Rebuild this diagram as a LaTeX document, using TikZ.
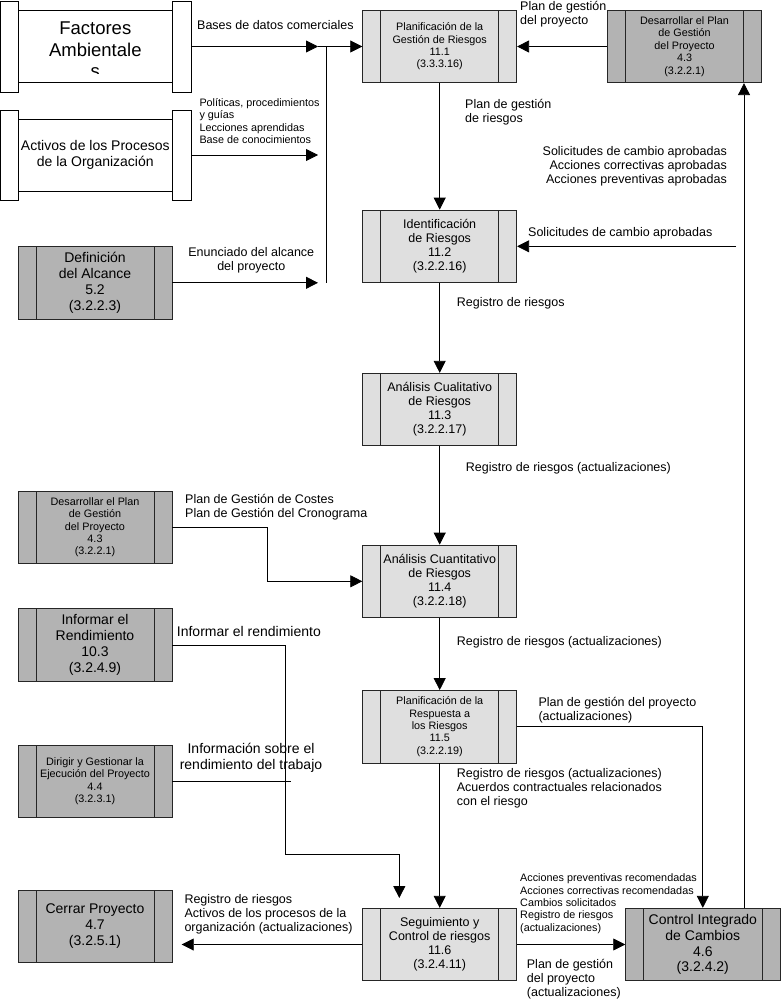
\documentclass[tikz,border=0pt]{standalone}
\usepackage{fontspec}
\setmainfont{Liberation Sans}
\usetikzlibrary{arrows.meta}
\definecolor{riskfill}{RGB}{223,223,223}
\definecolor{extfill}{RGB}{179,179,179}
\newcommand\fsmall{\fontsize{10.8}{12.4}\selectfont}
\newcommand\fmed{\fontsize{12.5}{14}\selectfont}
\newcommand\fbig{\fontsize{14}{15.9}\selectfont}
\newcommand\fhuge{\fontsize{18.5}{21.5}\selectfont}
\tikzset{
  proc/.style={draw=black!85, line width=0.8pt, minimum width=154pt, minimum height=72.5pt,
    inner sep=0pt, align=center,
    path picture={\draw[line width=0.8pt]
      ([xshift=18pt]path picture bounding box.north west) -- ([xshift=18pt]path picture bounding box.south west)
      ([xshift=-18pt]path picture bounding box.north east) -- ([xshift=-18pt]path picture bounding box.south east);}},
  risk/.style={proc, fill=riskfill},
  ext/.style={proc, fill=extfill},
  scroll/.style={draw, line width=0.8pt, minimum width=154pt, inner sep=0pt, fill=white},
  lbl/.style={inner sep=0pt, anchor=north west, align=left, font=\fmed},
  ln/.style={line width=0.8pt},
  arr/.style={ln, -{Triangle[length=12pt,width=12pt]}}
}
\begin{document}
\begin{tikzpicture}[x=1pt,y=-1pt]
  \useasboundingbox (0,0) rectangle (781,1003);
  \fill[white] (0,0) rectangle (781,1003);
  % entradas externas
  \node[scroll, minimum height=71.4pt] (fa) at (95.3,46.5) {};
  \node[scroll, minimum height=72pt, font=\fbig, align=center] (ao) at (95.3,155) {Activos de los Procesos\\de la Organización};
  \foreach \n/\ta/\tb in {fa/9.3/10.3, ao/8/9} {
    \draw[ln, fill=white] ([shift={(-17.3,-\ta)}]\n.north west) rectangle ([shift={(0,\tb)}]\n.south west);
    \draw[ln, fill=white] ([shift={(0,-\ta)}]\n.north east) rectangle ([shift={(18.4,\tb)}]\n.south east);
  }
  \begin{scope}
    \clip (fa.north west) rectangle (172.3,73.5);
    \node[font=\fhuge, align=center, inner sep=0pt] (fat) at (95.3,50) {Factores\\Ambientale\\s};
  \end{scope}
  % procesos de riesgos
  \node[risk, font=\fsmall] (p1) at (439.7,46.5) {Planificación de la\\Gestión de Riesgos\\11.1\\(3.3.3.16)};
  \node[risk, font=\fmed] (p2) at (439.7,246.3) {Identificación\\de Riesgos\\11.2\\(3.2.2.16)};
  \node[risk, font=\fmed] (p3) at (439.7,409.5) {Análisis Cualitativo\\de Riesgos\\11.3\\(3.2.2.17)};
  \node[risk, font=\fmed] (p4) at (439.7,581.3) {Análisis Cuantitativo\\de Riesgos\\11.4\\(3.2.2.18)};
  \node[risk, font=\fsmall] (p5) at (439.7,726.7) {Planificación de la\\Respuesta a\\los Riesgos\\11.5\\(3.2.2.19)};
  \node[risk, font=\fmed] (p6) at (439.7,944.5) {Seguimiento y\\Control de riesgos\\11.6\\(3.2.4.11)};
  % otros procesos
  \node[ext, font=\fsmall] (d1) at (684.5,46.5) {Desarrollar el Plan\\de Gestión\\del Proyecto\\4.3\\(3.2.2.1)};
  \node[ext, font=\fbig] (al) at (95,282.8) {Definición\\del Alcance\\5.2\\(3.2.2.3)};
  \node[ext, font=\fsmall] (d2) at (95,527.3) {Desarrollar el Plan\\de Gestión\\del Proyecto\\4.3\\(3.2.2.1)};
  \node[ext, font=\fbig] (ir) at (95,645) {Informar el\\Rendimiento\\10.3\\(3.2.4.9)};
  \node[ext, font=\fsmall] (dg) at (95,781.3) {Dirigir y Gestionar la\\Ejecución del Proyecto\\4.4\\(3.2.3.1)};
  \node[ext, font=\fbig] (cp) at (95,926.3) {Cerrar Proyecto\\4.7\\(3.2.5.1)};
  \node[ext, font=\fbig, minimum width=154.3pt] (ci) at (702.8,944.5) {Control Integrado\\de Cambios\\4.6\\(3.2.4.2)};
  % puntos de paso
  \coordinate (j1) at (318,46.5);
  \coordinate (j2) at (326,46.5);
  \coordinate (s1) at (736,246.3);
  \coordinate (up) at (744,0);
  \coordinate (k1) at (267.7,550);
  \coordinate (k2) at (285.7,854.3);
  \coordinate (k3) at (399.3,898);
  \coordinate (k4) at (291,0);
  \coordinate (k5) at (181.7,0);
  \begin{scope}[arr]
    \draw ([xshift=18.4pt]fa.east) to (j1);
    \draw (j1) to (p1.west);
    \draw ([xshift=18.4pt]ao.east) to (ao.east -| j1);
    \draw (al.east) to (al.east -| j1);
    \draw (d1.west) to (p1.east);
    \draw (p1) to (p2);
    \draw (s1) to (p2.east);
    \draw (p2) to (p3);
    \draw (p3) to (p4);
    \draw (d2.east) -| (k1) |- (p4.west);
    \draw (p4) to (p5);
    \draw (p5) to (p6);
    \draw (p5.east) -| (ci.north);
    \draw (p6.east) to (ci.west);
    \draw (p6.west) to (p6.west -| k5);
    \draw (ci.north -| up) to (d1.south -| up);
    \draw (ir.east) -| (k2) -| (k3);
  \end{scope}
  \draw[ln] (j2) -- (al.east -| j2);
  \draw[ln] (dg.east) -- (dg.east -| k4);
  % etiquetas
  \node[lbl] (t1) at (197,20.4) {Bases de datos comerciales};
  \node[lbl, font=\fsmall] (t2) at (199.3,98.2) {Políticas, procedimientos\\y guías\\Lecciones aprendidas\\Base de conocimientos};
  \node[lbl, anchor=north, align=center] (t3) at (251.3,247.7) {Enunciado del alcance\\del proyecto};
  \node[lbl] (t4) at (520,0.6) {Plan de gestión\\del proyecto};
  \node[lbl] (t5) at (465,99.3) {Plan de gestión\\de riesgos};
  \node[lbl, anchor=north east, align=right] (t6) at (727,146.1) {Solicitudes de cambio aprobadas\\Acciones correctivas aprobadas\\Acciones preventivas aprobadas};
  \node[lbl] (t7) at (528,227.1) {Solicitudes de cambio aprobadas};
  \node[lbl] (t8) at (456.7,297.4) {Registro de riesgos};
  \node[lbl] (t9) at (465.7,462.7) {Registro de riesgos (actualizaciones)};
  \node[lbl] (t10) at (185,494.3) {Plan de Gestión de Costes\\Plan de Gestión del Cronograma};
  \node[lbl] (t11) at (456.7,636.1) {Registro de riesgos (actualizaciones)};
  \node[lbl, font=\fbig] (t12) at (176.7,625.7) {Informar el rendimiento};
  \node[lbl] (t13) at (538.3,697.3) {Plan de gestión del proyecto\\(actualizaciones)};
  \node[lbl, font=\fbig, anchor=north, align=center] (t14) at (251,743) {Información sobre el\\rendimiento del trabajo};
  \node[lbl] (t15) at (456.7,768.1) {Registro de riesgos (actualizaciones)\\Acuerdos contractuales relacionados\\con el riesgo};
  \node[lbl, font=\fsmall] (t16) at (520,873.7) {Acciones preventivas recomendadas\\Acciones correctivas recomendadas\\Cambios solicitados\\Registro de riesgos\\(actualizaciones)};
  \node[lbl] (t17) at (526.7,959.3) {Plan de gestión\\del proyecto\\(actualizaciones)};
  \node[lbl] (t18) at (184.3,894.7) {Registro de riesgos\\Activos de los procesos de la\\organización (actualizaciones)};
\end{tikzpicture}
\end{document}
